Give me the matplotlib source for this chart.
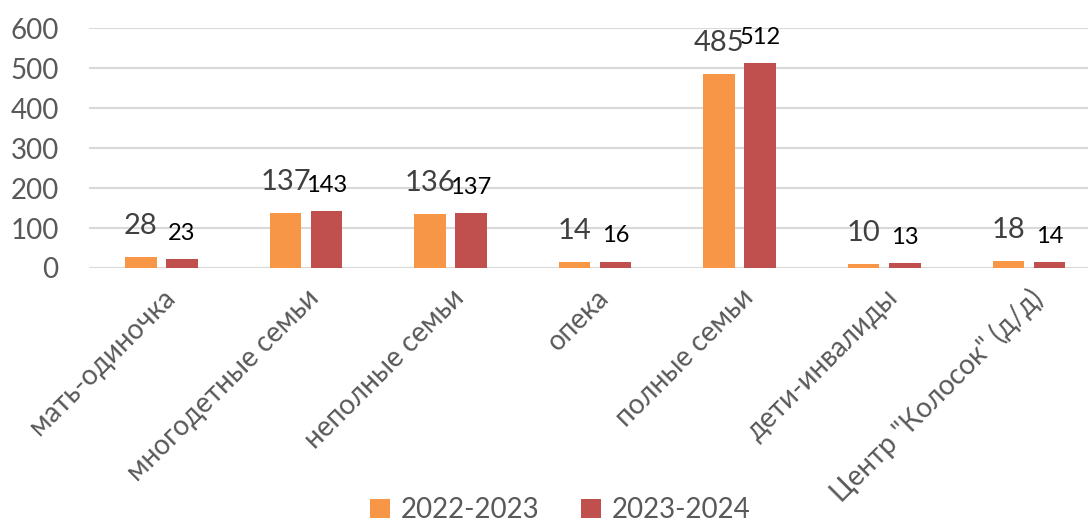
import matplotlib
matplotlib.use("Agg")
from matplotlib import pyplot as plt
import numpy as np

categories = ["мать-одиночка", "многодетные семьи", "неполные семьи", "опека",
              "полные семьи", "дети-инвалиды", "Центр \"Колосок\" (д/д)"]
series_names = ["2022-2023", "2023-2024"]
values_2022 = [28, 137, 136, 14, 485, 10, 18]
values_2023 = [23, 143, 137, 16, 512, 13, 14]

plt.rcParams['font.family'] = ['Lato', 'DejaVu Sans']

fig = plt.figure(figsize=(10.88, 5.22), dpi=100)
ax = fig.add_axes([0.082, 0.4866, 0.93, 0.4594])

x = np.arange(len(categories))
w = 0.218
off = 0.142
b1 = ax.bar(x - off, values_2022, w, color="#F79646", label=series_names[0], zorder=3)
b2 = ax.bar(x + off, values_2023, w, color="#C0504D", label=series_names[1], zorder=3)

# value labels: orange series gray & larger, red series black & smaller
for xi, v in zip(x, values_2022):
    ax.annotate(str(v), (xi - off, v), xytext=(0, 13), textcoords="offset points",
                ha="center", va="bottom", fontsize=21, color="#404040")
for xi, v in zip(x, values_2023):
    ax.annotate(str(v), (xi + off, v), xytext=(0, 11), textcoords="offset points",
                ha="center", va="bottom", fontsize=17, color="black")

ax.set_xlim(-0.5, len(categories) - 0.5)
ax.set_ylim(0, 600)
ax.set_yticks(range(0, 601, 100))
ax.yaxis.grid(True, color="#d9d9d9", linewidth=1.5, zorder=0)
for s in ax.spines.values():
    s.set_visible(False)
ax.axhline(0, color="#d9d9d9", linewidth=1.5, zorder=1)
ax.tick_params(axis="both", length=0, labelsize=20, labelcolor="#595959")
ax.tick_params(axis="y", pad=22)
ax.set_xticks(x)
ax.set_xticklabels(categories, rotation=45, ha="right", rotation_mode="anchor")
ax.tick_params(axis="x", pad=12)

fig.legend(handles=[b1, b2], loc="center", bbox_to_anchor=(0.515, 0.023), ncol=2,
           frameon=False, fontsize=20, labelcolor="#595959", handlelength=0.7,
           handleheight=0.7, columnspacing=1.5, handletextpad=0.4)

fig.savefig("out.png", dpi=100)
